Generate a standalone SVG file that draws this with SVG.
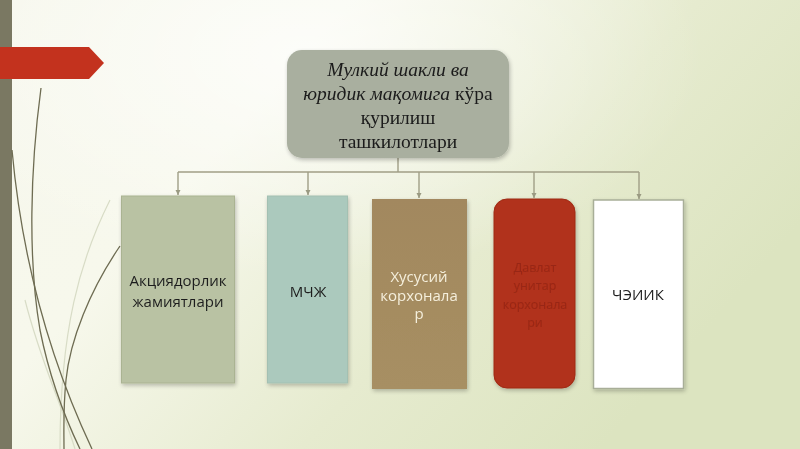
<svg xmlns="http://www.w3.org/2000/svg" width="800" height="449" viewBox="0 0 800 449">
<defs>
<linearGradient id="bg" x1="0" y1="0" x2="1" y2="0.5">
<stop offset="0" stop-color="#f6f7ec"/>
<stop offset="0.35" stop-color="#f7f8ec"/>
<stop offset="0.7" stop-color="#e6ebcf"/>
<stop offset="1" stop-color="#dce4c0"/>
</linearGradient>
<radialGradient id="glow" cx="0.38" cy="0.12" r="0.5">
<stop offset="0" stop-color="#ffffff" stop-opacity="0.7"/>
<stop offset="1" stop-color="#ffffff" stop-opacity="0"/>
</radialGradient>
<linearGradient id="tan" x1="0" y1="0" x2="0" y2="1">
<stop offset="0" stop-color="#a2885e"/>
<stop offset="1" stop-color="#a78f63"/>
</linearGradient>
<filter id="sh" x="-10%" y="-10%" width="130%" height="130%">
<feGaussianBlur in="SourceAlpha" stdDeviation="2"/>
<feOffset dx="1" dy="2"/>
<feComponentTransfer><feFuncA type="linear" slope="0.25"/></feComponentTransfer>
<feMerge><feMergeNode/><feMergeNode in="SourceGraphic"/></feMerge>
</filter>
<marker id="ah" markerWidth="6" markerHeight="6" refX="5" refY="3" orient="auto" markerUnits="userSpaceOnUse">
<path d="M0,0.5 L5,3 L0,5.5 z" fill="#9a9a82"/>
</marker>
<style>
.conn{fill:none;stroke:#a09e86;stroke-width:1.4}
.lbl{font-family:"Open Sans","Noto Sans","DejaVu Sans",sans-serif;font-size:15px;text-anchor:middle}
.ttl{font-family:"Liberation Serif","DejaVu Serif",serif;font-size:19.5px;text-anchor:middle;fill:#1a1a1a}
.curve{fill:none;stroke:#6e6c52;stroke-width:1.3}
.faint{fill:none;stroke:#d8dcc6;stroke-width:1.2}
.red{fill:#982816;font-size:12.5px}
</style>
</defs>
<rect x="0" y="0" width="800" height="449" fill="url(#bg)"/>
<rect x="0" y="0" width="800" height="449" fill="url(#glow)"/>
<g id="decor">
<rect x="0" y="0" width="12" height="449" fill="#7a7862"/>
<path d="M0,47 H89 L104,63 L89,79 H0 z" fill="#c3321e"/>
<path class="faint" d="M110,200 C80,260 60,330 60,449"/>
<path class="faint" d="M25,300 C40,360 60,400 75,449"/>
<path class="curve" d="M41,88 C30,170 28,260 40,330 C50,380 66,420 80,449"/>
<path class="curve" d="M12,150 C22,260 50,360 92,449"/>
<path class="curve" d="M120,246 C90,290 70,340 66,380 C63,410 64,430 64,449"/>
</g>
<g id="connectors">
<path class="conn" d="M398,158 V172"/>
<path class="conn" d="M178,172 H639"/>
<path class="conn" d="M178,172 V195" marker-end="url(#ah)"/>
<path class="conn" d="M308,172 V195" marker-end="url(#ah)"/>
<path class="conn" d="M419,172 V198" marker-end="url(#ah)"/>
<path class="conn" d="M534,172 V198" marker-end="url(#ah)"/>
<path class="conn" d="M639,172 V199" marker-end="url(#ah)"/>
</g>
<g id="root" filter="url(#sh)">
<rect x="287" y="50" width="222" height="108" rx="15" fill="#a9af9f"/>
<text class="ttl" x="398" y="76" font-style="italic">Мулкий шакли ва</text>
<text class="ttl" x="398" y="100"><tspan font-style="italic">юридик мақомига</tspan> кўра</text>
<text class="ttl" x="398" y="124">қурилиш</text>
<text class="ttl" x="398" y="148">ташкилотлари</text>
</g>
<g id="n1" filter="url(#sh)">
<rect x="121.5" y="196" width="113" height="187" fill="#b9c2a3" stroke="#aab392" stroke-width="1"/>
<text class="lbl" x="178" y="286" fill="#1f1f1f">Акциядорлик</text>
<text class="lbl" x="178" y="307" fill="#1f1f1f">жамиятлари</text>
</g>
<g id="n2" filter="url(#sh)">
<rect x="267.5" y="196" width="80" height="187" fill="#abc9bd" stroke="#a3c0b2" stroke-width="1"/>
<text class="lbl" x="308" y="297" fill="#1f1f1f">МЧЖ</text>
</g>
<g id="n3" filter="url(#sh)">
<rect x="372" y="199" width="95" height="190" fill="url(#tan)"/>
<text class="lbl" x="419" y="282" fill="#f5efdc">Хусусий</text>
<text class="lbl" x="419" y="300.5" fill="#f5efdc">корхонала</text>
<text class="lbl" x="419" y="319" fill="#f5efdc">р</text>
</g>
<g id="n4" filter="url(#sh)">
<rect x="494" y="199" width="81" height="189" rx="13" fill="#b1301a" stroke="#9e2a16" stroke-width="1"/>
<text class="lbl red" x="535" y="272">Давлат</text>
<text class="lbl red" x="535" y="290">унитар</text>
<text class="lbl red" x="535" y="309">корхонала</text>
<text class="lbl red" x="535" y="327">ри</text>
</g>
<g id="n5" filter="url(#sh)">
<rect x="593.5" y="200" width="90" height="188.5" fill="#ffffff" stroke="#a8ae98" stroke-width="1.5"/>
<text class="lbl" x="638" y="300" fill="#1a1a1a">ЧЭИИК</text>
</g>
</svg>
